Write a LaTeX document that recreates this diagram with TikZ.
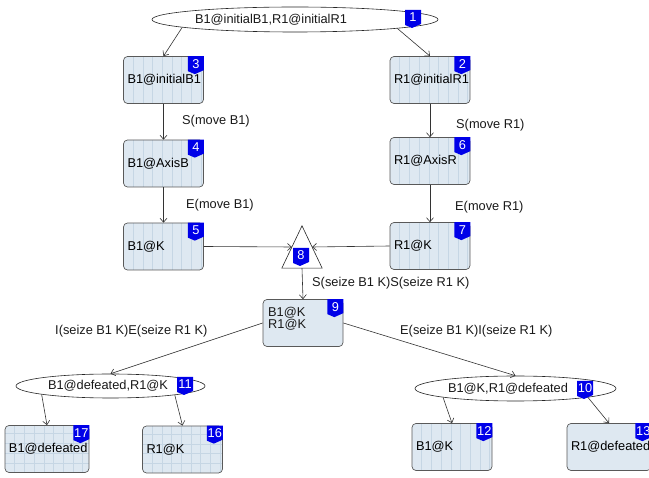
\documentclass[tikz,border=0pt]{standalone}
\usepackage{fontspec}
\setmainfont{Liberation Sans}
\usetikzlibrary{arrows.meta,calc,shapes.geometric}
\definecolor{boxfill}{HTML}{DEE8F1}
\definecolor{boxline}{HTML}{C6D6E4}
\definecolor{badgeblue}{HTML}{0000E8}
\definecolor{edgecol}{HTML}{333333}
\tikzset{
  box/.style={rectangle, rounded corners=4pt, draw=black!65, line width=0.7pt,
    fill=boxfill, minimum height=47pt, inner xsep=4pt, inner ysep=0pt,
    text width=72pt, align=left, font=\fontsize{12.8}{13}\selectfont},
  vlines/.style={path picture={\foreach \i in {1,...,9}{\draw[boxline, line width=0.5pt]
    ([xshift=\i*9.7pt]path picture bounding box.south west) --
    ([xshift=\i*9.7pt]path picture bounding box.north west);}}},
  grid/.style={path picture={\foreach \i in {1,...,9}{\draw[boxline, line width=0.5pt]
    ([xshift=\i*9.7pt]path picture bounding box.south west) --
    ([xshift=\i*9.7pt]path picture bounding box.north west);}
    \foreach \j in {1,...,5}{\draw[boxline, line width=0.5pt]
    ([yshift=\j*9.7pt]path picture bounding box.south west) --
    ([yshift=\j*9.7pt]path picture bounding box.south east);}}},
  ell/.style={ellipse, draw=black!85, line width=0.6pt, fill=white, inner sep=0pt},
  lbl/.style={font=\fontsize{12.8}{13}\selectfont, inner sep=0pt, text=black!90},
  arr/.style={-{Straight Barb[length=4pt,width=7pt]}, draw=edgecol, line width=0.6pt},
  badgenum/.style={text=white, font=\fontsize{12.8}{13}\selectfont, inner sep=0pt},
}
\newcommand{\mybadge}[3]{%
  \fill[badgeblue] ($(#1)+(-16,0)$) -- (#1) -- ($(#1)+(0,14)$) -- ($(#1)+(-9,18)$) -- ($(#1)+(-16,15)$) -- cycle;
  \node[badgenum] (#3) at ($(#1)+(-8,7.5)$) {#2};}
\begin{document}
\begin{tikzpicture}[x=1pt,y=-1pt]
\useasboundingbox (0,0) rectangle (649,478);
% ellipses
\node[ell, minimum width=286pt, minimum height=25pt] (e1) at (295,19.5) {};
\node[lbl] (te1) at (271,19.5) {B1@initialB1,R1@initialR1};
\node[ell, minimum width=189pt, minimum height=24pt] (e11) at (110.5,386) {};
\node[lbl] (te11) at (108,386) {B1@defeated,R1@K};
\node[ell, minimum width=201pt, minimum height=25pt] (e10) at (515.5,388.5) {};
\node[lbl] (te10) at (508,388.5) {B1@K,R1@defeated};
% boxes
\node[box, vlines] (b3) at (163.5,80) {B1@initialB1};
\node[box, vlines] (b2) at (430,80) {R1@initialR1};
\node[box, vlines] (b4) at (163.5,163.5) {B1@AxisB};
\node[box, vlines] (b6) at (430,161) {R1@AxisR};
\node[box, vlines] (b5) at (163.5,246.5) {B1@K};
\node[box, vlines] (b7) at (430,246) {R1@K};
\node[box, minimum width=80pt, text width=72pt] (b9) at (303,323) {};
\node[lbl, anchor=west, align=left, font=\fontsize{12.8}{11}\selectfont] (t9) at (268,318.5) {B1@K\\R1@K};
\node[box, grid, text width=76pt] (b17) at (47,449) {B1@defeated};
\node[box, grid] (b16) at (182.5,449.5) {R1@K};
\node[box, vlines] (b12) at (452,447) {B1@K};
\node[box, text width=76pt] (b13) at (609,447) {R1@defeated};
% triangle
\node[minimum width=40pt, minimum height=42pt, inner sep=0pt] (n8) at (302,247) {};
\draw[draw=black!85, line width=0.6pt, fill=white] (n8.north) -- (n8.south west) -- (n8.south east) -- cycle;
% badges
\mybadge{b3.north east}{3}{k3}
\mybadge{b2.north east}{2}{k2}
\mybadge{b4.north east}{4}{k4}
\mybadge{b6.north east}{6}{k6}
\mybadge{b5.north east}{5}{k5}
\mybadge{b7.north east}{7}{k7}
\mybadge{b9.north east}{9}{k9}
\mybadge{b17.north east}{17}{k17}
\mybadge{b16.north east}{16}{k16}
\mybadge{b12.north east}{12}{k12}
\mybadge{b13.north east}{13}{k13}
\mybadge{421,10}{1}{k1}
\mybadge{193,377}{11}{k11}
\mybadge{593,381}{10}{k10}
\mybadge{309,248}{8}{k8}
% edges
\draw[arr] (e1.184.9) -- (b3.north);
\draw[arr] (e1.355.2) -- (b2.north);
\draw[arr] (b3.south) -- (b4.north);
\draw[arr] (b4.south) -- (b5.north);
\draw[arr] (b2.south) -- (b6.north);
\draw[arr] (b6.south) -- (b7.north);
\draw[arr] (b5.east) -- ($(n8.north)!0.5!(n8.south west)$);
\draw[arr] (b7.west) -- ($(n8.north)!0.5!(n8.south east)$);
\draw[arr] (n8.south) -- (b9.north);
\draw[arr] (b9.west) -- (e11.north);
\draw[arr] (b9.east) -- (e10.north);
\draw[arr] (e11.187.3) -- (b17.north);
\draw[arr] (e11.352.9) -- (b16.north);
\draw[arr] (e10.187.2) -- (b12.north);
\draw[arr] (e10.353) -- (b13.north);
% edge labels
\node[lbl, anchor=west] (l1) at (182,121) {S(move B1)};
\node[lbl, anchor=west] (l2) at (186,205) {E(move B1)};
\node[lbl, anchor=west] (l3) at (456,125) {S(move R1)};
\node[lbl, anchor=west] (l4) at (455,207) {E(move R1)};
\node[lbl, anchor=west] (l5) at (312,283) {S(seize B1 K)S(seize R1 K)};
\node[lbl, anchor=west] (l6) at (55,331) {I(seize B1 K)E(seize R1 K)};
\node[lbl, anchor=west] (l7) at (400,331) {E(seize B1 K)I(seize R1 K)};
\end{tikzpicture}
\end{document}
